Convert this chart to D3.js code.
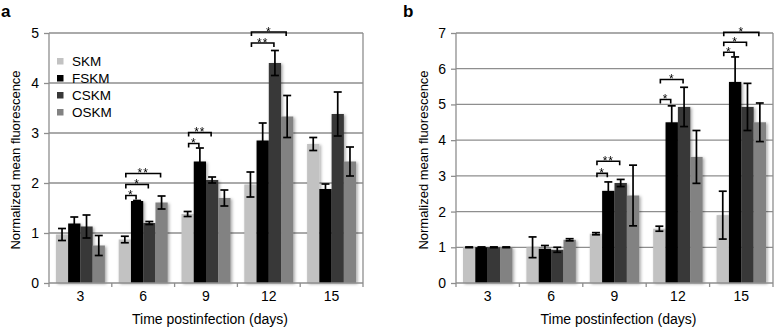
<!DOCTYPE html>
<html>
<head>
<meta charset="utf-8">
<script src="https://cdn.jsdelivr.net/npm/d3@7"></script>
<style>
  body { margin: 0; background: #fff; }
  svg { display: block; font-family: "Liberation Sans", Arial, sans-serif; }
</style>
</head>
<body>
<div id="chart"></div>
<script>
var vWidth = 776;
var vHeight = 328;

// Shared categories
var days = ["3", "6", "9", "12", "15"];
var seriesNames = ["SKM", "FSKM", "CSKM", "OSKM"];
var seriesColors = ["#c2c2c2", "#000000", "#383838", "#828282"];

// Panel a: mean values and error per series (rows = series, cols = days)
var aValues = [
  [0.97, 0.87, 1.38, 1.97, 2.78],
  [1.19, 1.64, 2.43, 2.85, 1.88],
  [1.13, 1.20, 2.06, 4.40, 3.38],
  [0.75, 1.61, 1.70, 3.33, 2.43]
];
var aErrors = [
  [0.12, 0.065, 0.05, 0.25, 0.13],
  [0.13, 0.01, 0.27, 0.35, 0.10],
  [0.23, 0.03, 0.06, 0.25, 0.44],
  [0.20, 0.13, 0.16, 0.42, 0.29]
];
var aTicks = [0, 1, 2, 3, 4, 5];
// significance brackets: [day, from series, to series, level, label]
var aSig = [
  ["6", 0, 1, 1.75, "*"],
  ["6", 0, 2, 1.97, "*"],
  ["6", 0, 3, 2.19, "**"],
  ["9", 0, 1, 2.79, "*"],
  ["9", 0, 2, 3.01, "**"],
  ["12", 0, 2, 4.80, "**"],
  ["12", 0, 3, 5.02, "*"]
];

// Panel b
var bValues = [
  [1.00, 1.00, 1.38, 1.52, 1.90],
  [1.00, 0.96, 2.58, 4.50, 5.63],
  [1.00, 0.93, 2.80, 4.93, 4.93],
  [1.00, 1.21, 2.45, 3.53, 4.50]
];
var bErrors = [
  [0.01, 0.29, 0.03, 0.07, 0.67],
  [0.01, 0.09, 0.25, 0.46, 0.70],
  [0.01, 0.07, 0.10, 0.55, 0.66],
  [0.01, 0.03, 0.85, 0.74, 0.54]
];
var bTicks = [0, 1, 2, 3, 4, 5, 6, 7];
var bSig = [
  ["9", 0, 1, 3.07, "*"],
  ["9", 0, 2, 3.41, "**"],
  ["12", 0, 1, 5.14, "*"],
  ["12", 0, 2, 5.70, "*"],
  ["15", 0, 1, 6.46, "*"],
  ["15", 0, 2, 6.74, "*"],
  ["15", 0, 3, 7.02, "*"]
];

var svg = d3.select("#chart")
  .append("svg")
  .attr("width", vWidth)
  .attr("height", vHeight);

var defs = svg.append("defs");
// soft shadow under the bars
var shadow = defs.append("filter").attr("id", "barShadow")
  .attr("x", "-30%").attr("y", "-10%").attr("width", "160%").attr("height", "130%");
shadow.append("feDropShadow")
  .attr("dx", 1.5).attr("dy", 1).attr("stdDeviation", 1.6)
  .attr("flood-color", "#000").attr("flood-opacity", 0.35);
// pass-through filter so the small star glyphs render in plain grey AA
defs.append("filter").attr("id", "flat")
  .append("feOffset").attr("dx", 0).attr("dy", 0);

var gridColor = "#8e8e8e";

function drawPanel(opt) {
  var g = svg.append("g");

  var x = d3.scaleBand().domain(days).range([opt.left, opt.right]);
  var xs = d3.scaleBand().domain(d3.range(seriesNames.length))
    .range([x.bandwidth() * 0.11, x.bandwidth() * 0.89]);
  var y = d3.scaleLinear().domain([0, opt.max]).range([opt.bottom, opt.top]);

  // gridlines
  g.append("g").selectAll("line")
    .data(opt.ticks.slice(1))
    .enter().append("line")
    .attr("x1", opt.left).attr("x2", opt.right)
    .attr("y1", d => y(d)).attr("y2", d => y(d))
    .attr("stroke", gridColor).attr("stroke-width", 1.3);

  // right border
  g.append("line")
    .attr("x1", opt.right).attr("x2", opt.right)
    .attr("y1", opt.top).attr("y2", opt.bottom)
    .attr("stroke", gridColor).attr("stroke-width", 1.3);

  // bars
  var rows = [];
  opt.values.forEach(function (vals, s) {
    vals.forEach(function (v, i) {
      rows.push({ s: s, day: days[i], v: v, e: opt.errors[s][i] });
    });
  });

  g.append("g").attr("filter", "url(#barShadow)")
    .selectAll("rect").data(rows).enter().append("rect")
    .attr("x", d => x(d.day) + xs(d.s))
    .attr("width", xs.bandwidth())
    .attr("y", d => y(d.v))
    .attr("height", d => y(0) - y(d.v))
    .attr("fill", d => seriesColors[d.s]);

  // error bars
  var eb = g.append("g").attr("stroke", "#000").attr("stroke-width", 1.7);
  rows.forEach(function (d) {
    var cx = x(d.day) + xs(d.s) + xs.bandwidth() / 2;
    var y1 = y(d.v + d.e), y2 = y(d.v - d.e);
    eb.append("line").attr("x1", cx).attr("x2", cx).attr("y1", y1).attr("y2", y2);
    eb.append("line").attr("x1", cx - 4).attr("x2", cx + 4).attr("y1", y1).attr("y2", y1);
    eb.append("line").attr("x1", cx - 4).attr("x2", cx + 4).attr("y1", y2).attr("y2", y2);
  });

  // significance brackets
  var sg = g.append("g").attr("filter", "url(#flat)");
  opt.sig.forEach(function (d) {
    var xa = x(d[0]) + xs(d[1]) + xs.bandwidth() / 2 + 1;
    var xb = x(d[0]) + xs(d[2]) + xs.bandwidth() / 2 - 1;
    var yy = y(d[3]);
    sg.append("path")
      .attr("d", "M" + xa + "," + (yy + 4) + "V" + yy + "H" + xb + "V" + (yy + 4))
      .attr("fill", "none").attr("stroke", "#000").attr("stroke-width", 1.6);
    sg.append("text")
      .attr("x", (xa + xb) / 2).attr("y", yy + 3.5)
      .attr("text-anchor", "middle")
      .attr("font-size", 12)
      .attr("fill", "#000")
      .attr("letter-spacing", 1)
      .text(d[4]);
  });

  // y axis
  var yAxis = d3.axisLeft(y).tickValues(opt.ticks).tickFormat(d3.format("d"))
    .tickSize(5).tickPadding(5);
  var ya = g.append("g").attr("transform", "translate(" + opt.left + ",0)").call(yAxis);
  ya.select(".domain").attr("stroke", gridColor).attr("stroke-width", 1.3).attr("d", "M0," + opt.top + "V" + opt.bottom);
  ya.selectAll(".tick line").attr("stroke", gridColor).attr("stroke-width", 1.3);
  ya.selectAll("text").attr("font-size", 14).attr("fill", "#000")
    .attr("font-family", "Liberation Sans, Arial, sans-serif");

  // x axis: ticks at category boundaries
  g.append("line")
    .attr("x1", opt.left).attr("x2", opt.right)
    .attr("y1", opt.bottom).attr("y2", opt.bottom)
    .attr("stroke", gridColor).attr("stroke-width", 1.3);
  var bounds = days.map(d => x(d)).concat([opt.right]);
  g.append("g").selectAll("line").data(bounds).enter().append("line")
    .attr("x1", d => d).attr("x2", d => d)
    .attr("y1", opt.bottom).attr("y2", opt.bottom + 4)
    .attr("stroke", gridColor).attr("stroke-width", 1.3);
  g.append("g").selectAll("text").data(days).enter().append("text")
    .attr("x", d => x(d) + x.bandwidth() / 2)
    .attr("y", opt.bottom + 18)
    .attr("text-anchor", "middle")
    .attr("font-size", 14)
    .text(d => d);

  // axis titles
  g.append("text")
    .attr("x", (opt.left + opt.right) / 2 + 4)
    .attr("y", 324)
    .attr("text-anchor", "middle")
    .attr("font-size", 14)
    .text("Time postinfection (days)");
  g.append("text")
    .attr("transform", "translate(" + opt.ytitleX + "," + ((opt.top + opt.bottom) / 2 + 2) + ") rotate(-90)")
    .attr("text-anchor", "middle")
    .attr("font-size", 13)
    .text("Normalized mean fluorescence");

  // panel letter
  g.append("text")
    .attr("x", opt.letterX).attr("y", 17)
    .attr("font-size", 17).attr("font-weight", "bold")
    .text(opt.letter);

  return g;
}

var ga = drawPanel({
  left: 49, right: 363, top: 33, bottom: 283, max: 5,
  ticks: aTicks, values: aValues, errors: aErrors, sig: aSig,
  ytitleX: 20, letter: "a", letterX: 1
});

drawPanel({
  left: 456, right: 773, top: 33, bottom: 283, max: 7,
  ticks: bTicks, values: bValues, errors: bErrors, sig: bSig,
  ytitleX: 428, letter: "b", letterX: 403
});

// legend for panel a
var legend = ga.append("g").attr("transform", "translate(57,61)");
seriesNames.forEach(function (name, i) {
  var row = legend.append("g").attr("transform", "translate(0," + (i * 17) + ")");
  row.append("rect")
    .attr("x", 0).attr("y", -3)
    .attr("width", 6.5).attr("height", 6.5)
    .attr("fill", seriesColors[i]);
  row.append("text")
    .attr("x", 15).attr("y", 5)
    .attr("font-size", 13.5)
    .text(name);
});
</script>
</body>
</html>
